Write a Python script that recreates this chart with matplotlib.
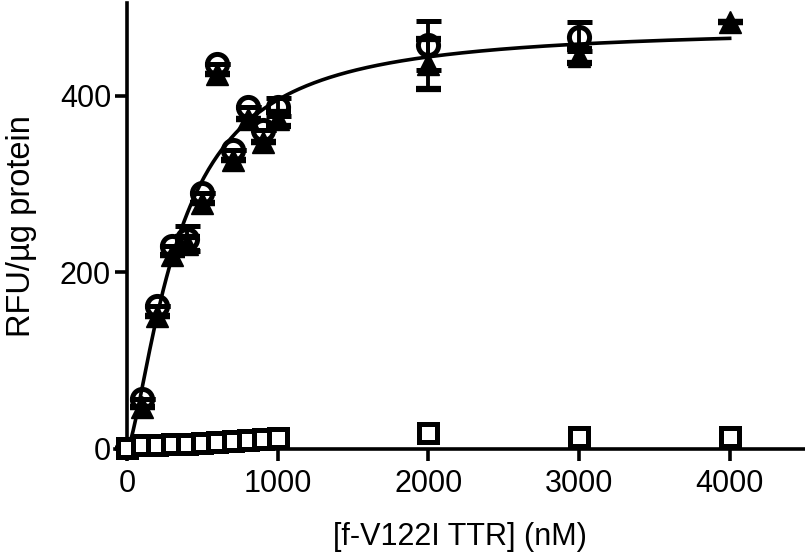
import numpy as np
import matplotlib
matplotlib.use("Agg")
import matplotlib.pyplot as plt

plt.rcParams['font.family'] = ['Liberation Sans', 'DejaVu Sans']

# concentration (nM)
conc = [0, 100, 200, 300, 400, 500, 600, 700, 800, 900, 1000, 2000, 3000, 4000]

# open circles
circ_x = [0, 100, 200, 300, 400, 500, 600, 700, 800, 900, 1000, 2000, 3000]
circ_y = [0, 57, 162, 230, 238, 290, 436, 339, 387, 361, 387, 457, 467]
circ_err = [0, 0, 0, 0, 14, 0, 0, 0, 0, 0, 10, 28, 16]

# filled triangles
tri_x = [0, 100, 200, 300, 400, 500, 600, 700, 800, 900, 1000, 2000, 3000, 4000]
tri_y = [0, 47, 151, 220, 232, 278, 425, 327, 374, 348, 374, 436, 445, 484]
tri_err = [0, 0, 0, 0, 8, 0, 0, 0, 0, 0, 8, 28, 8, 0]

# open squares
sq_x = [0, 100, 200, 300, 400, 500, 600, 700, 800, 900, 1000, 2000, 3000, 4000]
sq_y = [1, 4, 5, 6, 6, 7, 8, 9, 10, 11, 12, 18, 14, 14]

# fit parameters (specific binding, Hill slope)
bmax, kd, hill = 478, 340, 1.45

fig = plt.figure(figsize=(8.05, 5.57), dpi=100)
ax = fig.add_axes([115 / 805, 108 / 557, 690 / 805, 446 / 557])

xf = np.linspace(0, 4000, 400)
yf = bmax * xf**hill / (kd**hill + xf**hill)
ax.plot(xf, yf, color='black', lw=2.6, zorder=2)

ax.errorbar(tri_x, tri_y, yerr=tri_err, fmt='^', color='black', ms=16,
            ecolor='black', elinewidth=2.8, capsize=9, capthick=4.5, zorder=3)
ax.errorbar(circ_x, circ_y, yerr=circ_err, fmt='o', color='black', ms=14.5,
            mfc='none', mew=3.6, ecolor='black', elinewidth=2.8, capsize=9,
            capthick=4.5, zorder=4)
ax.plot(sq_x, sq_y, 's', color='black', ms=12.5, mfc='white', mew=3.6,
        zorder=5, clip_on=False)

ax.set_xlim(-80, 4500)
ax.set_ylim(0, 505)
ax.spines['left'].set_position(('data', 0))
ax.spines['top'].set_visible(False)
ax.spines['right'].set_visible(False)
for s in ['left', 'bottom']:
    ax.spines[s].set_linewidth(2.6)

ax.set_xticks([0, 1000, 2000, 3000, 4000])
ax.set_yticks([0, 200, 400])
ax.tick_params(width=2.6, length=8.5, labelsize=22)
ax.tick_params(axis='x', pad=6)
ax.tick_params(axis='y', pad=3)

ax.set_xlabel('[f-V122I TTR] (nM)', fontsize=22)
ax.set_ylabel('RFU/µg protein', fontsize=23.5)
ax.xaxis.set_label_coords(0.5, -0.163)
ax.yaxis.set_label_coords(-0.113, 0.5)

fig.savefig('out.png', dpi=100)
